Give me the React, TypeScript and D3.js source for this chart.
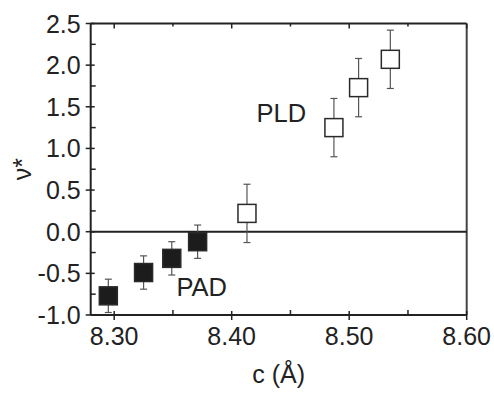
import { useEffect, useRef } from "react";
import * as d3 from "d3";

// lattice parameter c (Å) and nu* values
const padC = [8.295, 8.325, 8.349, 8.371];
const padNu = [-0.77, -0.49, -0.32, -0.12];
const padErr = [0.2, 0.2, 0.2, 0.2];

const pldC = [8.413, 8.487, 8.508, 8.535];
const pldNu = [0.22, 1.25, 1.73, 2.07];
const pldErr = [0.35, 0.35, 0.35, 0.35];

const xMajor = [8.3, 8.4, 8.5, 8.6];
const xMinor = [8.35, 8.45, 8.55];
const yMajor = [-1.0, -0.5, 0.0, 0.5, 1.0, 1.5, 2.0, 2.5];
const yMinor = [-0.75, -0.25, 0.25, 0.75, 1.25, 1.75, 2.25];

const W = 494;
const H = 394;
const margin = { top: 23.5, right: 27.3, bottom: 79, left: 90.7 };
const FONT = "'Liberation Sans', Arial, Helvetica, sans-serif";
const INK = "#222";

export default function App() {
    const ref = useRef<SVGSVGElement>(null);

    useEffect(() => {
        const svg = d3.select(ref.current);
        svg.selectAll("*").remove();

        const x = d3.scaleLinear().domain([8.28, 8.6]).range([margin.left, W - margin.right]);
        const y = d3.scaleLinear().domain([-1, 2.5]).range([H - margin.bottom, margin.top]);
        const x0 = x.range()[0], x1 = x.range()[1];
        const yb = y.range()[0], yt = y.range()[1];

        // frame
        const g = svg.append("g");
        g.append("line").attr("x1", x0).attr("x2", x1).attr("y1", yb).attr("y2", yb)
            .attr("stroke", INK).attr("stroke-width", 2);
        g.append("line").attr("x1", x0).attr("x2", x1).attr("y1", yt).attr("y2", yt)
            .attr("stroke", INK).attr("stroke-width", 2);
        g.append("line").attr("x1", x0).attr("x2", x0).attr("y1", yt).attr("y2", yb)
            .attr("stroke", INK).attr("stroke-width", 2);
        g.append("line").attr("x1", x1).attr("x2", x1).attr("y1", yt).attr("y2", yb)
            .attr("stroke", "#444").attr("stroke-width", 2);

        // zero line
        g.append("line").attr("x1", x0).attr("x2", x1).attr("y1", y(0)).attr("y2", y(0))
            .attr("stroke", INK).attr("stroke-width", 2);

        // x ticks
        xMajor.forEach((v) => {
            g.append("line").attr("x1", x(v)).attr("x2", x(v)).attr("y1", yb - 4).attr("y2", yb + 5)
                .attr("stroke", INK).attr("stroke-width", 1.5);
            g.append("line").attr("x1", x(v)).attr("x2", x(v)).attr("y1", yt).attr("y2", yt + 5)
                .attr("stroke", INK).attr("stroke-width", 1.5);
            g.append("text").attr("x", x(v)).attr("y", yb + 30).attr("text-anchor", "middle")
                .attr("font-family", FONT).attr("font-size", 25).attr("fill", INK)
                .text(v.toFixed(2));
        });
        xMinor.forEach((v) => {
            g.append("line").attr("x1", x(v)).attr("x2", x(v)).attr("y1", yb - 5).attr("y2", yb)
                .attr("stroke", INK).attr("stroke-width", 1.5);
            g.append("line").attr("x1", x(v)).attr("x2", x(v)).attr("y1", yt).attr("y2", yt + 3)
                .attr("stroke", INK).attr("stroke-width", 1.5);
        });

        // y ticks
        yMajor.forEach((v) => {
            g.append("line").attr("x1", x0 - 5).attr("x2", x0 + 4).attr("y1", y(v)).attr("y2", y(v))
                .attr("stroke", INK).attr("stroke-width", 1.5);
            g.append("text").attr("x", x0 - 10).attr("y", y(v)).attr("dy", "0.36em")
                .attr("text-anchor", "end")
                .attr("font-family", FONT).attr("font-size", 25).attr("fill", INK)
                .text(v.toFixed(1));
        });
        yMinor.forEach((v) => {
            g.append("line").attr("x1", x0).attr("x2", x0 + 5).attr("y1", y(v)).attr("y2", y(v))
                .attr("stroke", INK).attr("stroke-width", 1.5);
        });

        // axis titles
        g.append("text").attr("x", (x0 + x1) / 2).attr("y", 383).attr("text-anchor", "middle")
            .attr("font-family", FONT).attr("font-size", 25).attr("fill", INK).text("c (Å)");
        g.append("text").attr("transform", `translate(31,${(yt + yb) / 2}) rotate(-90)`)
            .attr("text-anchor", "middle")
            .attr("font-family", FONT).attr("font-size", 25).attr("fill", INK).text("ν*");

        // error bars + squares
        const drawSeries = (cs: number[], nus: number[], errs: number[], filled: boolean) => {
            cs.forEach((c, i) => {
                const cx = x(c), cy = y(nus[i]);
                const top = y(nus[i] + errs[i]), bot = y(nus[i] - errs[i]);
                g.append("line").attr("x1", cx).attr("x2", cx).attr("y1", top).attr("y2", bot)
                    .attr("stroke", "#555").attr("stroke-width", 1.2);
                [top, bot].forEach((yy) => {
                    g.append("line").attr("x1", cx - 3.5).attr("x2", cx + 3.5).attr("y1", yy).attr("y2", yy)
                        .attr("stroke", "#555").attr("stroke-width", 1.2);
                });
                g.append("rect").attr("x", cx - 9).attr("y", cy - 9).attr("width", 18).attr("height", 18)
                    .attr("fill", filled ? "#1c1c1c" : "#fff")
                    .attr("stroke", "#2a2a2a").attr("stroke-width", 1.5);
            });
        };
        drawSeries(padC, padNu, padErr, true);
        drawSeries(pldC, pldNu, pldErr, false);

        // labels
        g.append("text").attr("x", 176.5).attr("y", 296)
            .attr("font-family", FONT).attr("font-size", 25.5).attr("fill", INK).text("PAD");
        g.append("text").attr("x", 256.5).attr("y", 122)
            .attr("font-family", FONT).attr("font-size", 25.5).attr("fill", INK).text("PLD");
    }, []);

    return (
        <svg ref={ref} width={W} height={H}
            style={{ position: "absolute", left: 0, top: 0, background: "#fff" }} />
    );
}
